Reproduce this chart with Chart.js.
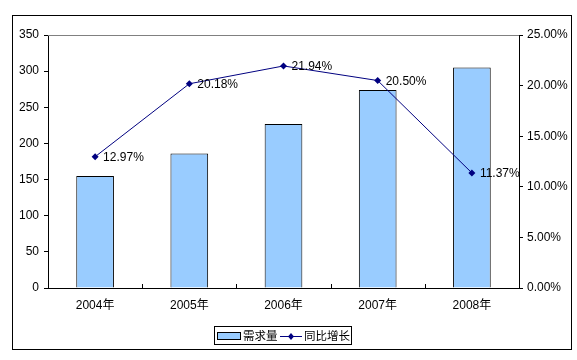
<!DOCTYPE html>
<html>
<head>
<meta charset="utf-8">
<script src="https://cdn.jsdelivr.net/npm/chart.js@4"></script>
<style>
  body { margin: 0; background: #fff; }
  #wrap { width: 577px; height: 360px; }
</style>
</head>
<body>
<div id="wrap"><canvas id="chart" width="577" height="360"></canvas></div>
<script>
const years = ["2004年", "2005年", "2006年", "2007年", "2008年"];
const demand = [155, 186, 227, 274, 305];
const growth = [12.97, 20.18, 21.94, 20.50, 11.37];
const seriesNames = ["需求量", "同比增长"];

const FONT = '"Liberation Sans Narrow", "Liberation Sans", Arial, "Noto Sans CJK SC", sans-serif';
const CJK = '"Noto Sans CJK SC", sans-serif';
const BAR_FILL = "#99ccff";
const LINE_COLOR = "#000080";

// axis decorations, value labels and the boxed legend
const extras = {
  id: "extras",
  afterDraw(chart) {
    const ctx = chart.ctx;
    const a = chart.chartArea;
    ctx.save();

    // outer frame
    ctx.strokeStyle = "#000";
    ctx.lineWidth = 1;
    ctx.strokeRect(12.5, 15.5, 559, 334);

    // gray top edge of plot area
    ctx.strokeStyle = "#808080";
    ctx.beginPath();
    ctx.moveTo(a.left, a.top + 0.5);
    ctx.lineTo(a.right, a.top + 0.5);
    ctx.stroke();

    // inward tick marks between categories
    const x = chart.scales.x;
    ctx.strokeStyle = "#000";
    for (let i = 1; i < years.length; i++) {
      const px = Math.round((x.getPixelForValue(i - 1) + x.getPixelForValue(i)) / 2) + 0.5;
      ctx.beginPath();
      ctx.moveTo(px, a.bottom);
      ctx.lineTo(px, a.bottom - 4);
      ctx.stroke();
    }

    // value labels next to line points
    const meta = chart.getDatasetMeta(1);
    ctx.fillStyle = "#000";
    ctx.font = "12px " + FONT;
    ctx.textAlign = "left";
    ctx.textBaseline = "middle";
    meta.data.forEach((pt, i) => {
      ctx.fillText(growth[i].toFixed(2) + "%", pt.x + 8, pt.y + 1);
    });

    // legend
    ctx.strokeStyle = "#000";
    ctx.strokeRect(214.5, 326.5, 137, 18);
    ctx.fillStyle = BAR_FILL;
    ctx.fillRect(218, 333, 22, 6);
    ctx.strokeRect(217.5, 332.5, 23, 7);
    ctx.fillStyle = "#000";
    ctx.font = "11.5px " + CJK;
    ctx.fillText(seriesNames[0], 243, 336);
    ctx.strokeStyle = LINE_COLOR;
    ctx.beginPath();
    ctx.moveTo(280, 336.5);
    ctx.lineTo(302, 336.5);
    ctx.stroke();
    ctx.fillStyle = LINE_COLOR;
    ctx.beginPath();
    ctx.moveTo(291, 333);
    ctx.lineTo(294, 336.5);
    ctx.lineTo(291, 340);
    ctx.lineTo(288, 336.5);
    ctx.closePath();
    ctx.fill();
    ctx.fillStyle = "#000";
    ctx.fillText(seriesNames[1], 304, 336);

    ctx.restore();
  }
};

new Chart(document.getElementById("chart"), {
  type: "bar",
  data: {
    labels: years,
    datasets: [
      {
        type: "bar",
        label: seriesNames[0],
        data: demand,
        backgroundColor: BAR_FILL,
        borderColor: "#000",
        borderWidth: 1,
        barPercentage: 0.4,
        categoryPercentage: 1,
        yAxisID: "y",
        order: 2
      },
      {
        type: "line",
        label: seriesNames[1],
        data: growth,
        borderColor: LINE_COLOR,
        borderWidth: 1,
        backgroundColor: LINE_COLOR,
        pointStyle: "rectRot",
        pointRadius: 3.5,
        pointBorderWidth: 0,
        tension: 0,
        yAxisID: "y1",
        order: 1
      }
    ]
  },
  options: {
    responsive: false,
    devicePixelRatio: 1,
    animation: false,
    layout: { padding: { left: 0, right: 0, top: 35, bottom: 0 } },
    plugins: {
      legend: { display: false },
      tooltip: { enabled: false }
    },
    scales: {
      x: {
        offset: true,
        grid: { display: false, drawTicks: false },
        border: { display: true, color: "#000", width: 1 },
        ticks: { color: "#000", font: { family: FONT, size: 12 }, padding: 10, maxRotation: 0 },
        afterFit(s) { s.height = 72; s.paddingLeft = 0; s.paddingRight = 0; }
      },
      y: {
        position: "left",
        min: 0,
        max: 350,
        grid: { drawOnChartArea: false, drawTicks: true, tickLength: 4, color: "#000" },
        border: { display: true, color: "#000", width: 1 },
        ticks: { stepSize: 50, color: "#000", font: { family: FONT, size: 12 }, padding: 5 },
        afterFit(s) { s.width = 48; s.paddingTop = 0; s.paddingBottom = 0; }
      },
      y1: {
        position: "right",
        min: 0,
        max: 25,
        grid: { drawOnChartArea: false, drawTicks: true, tickLength: 4, color: "#000" },
        border: { display: true, color: "#000", width: 1 },
        ticks: {
          stepSize: 5,
          color: "#000",
          font: { family: FONT, size: 12 },
          padding: 4,
          callback: v => v.toFixed(2) + "%"
        },
        afterFit(s) { s.width = 58; s.paddingTop = 0; s.paddingBottom = 0; }
      }
    }
  },
  plugins: [extras]
});
</script>
</body>
</html>
